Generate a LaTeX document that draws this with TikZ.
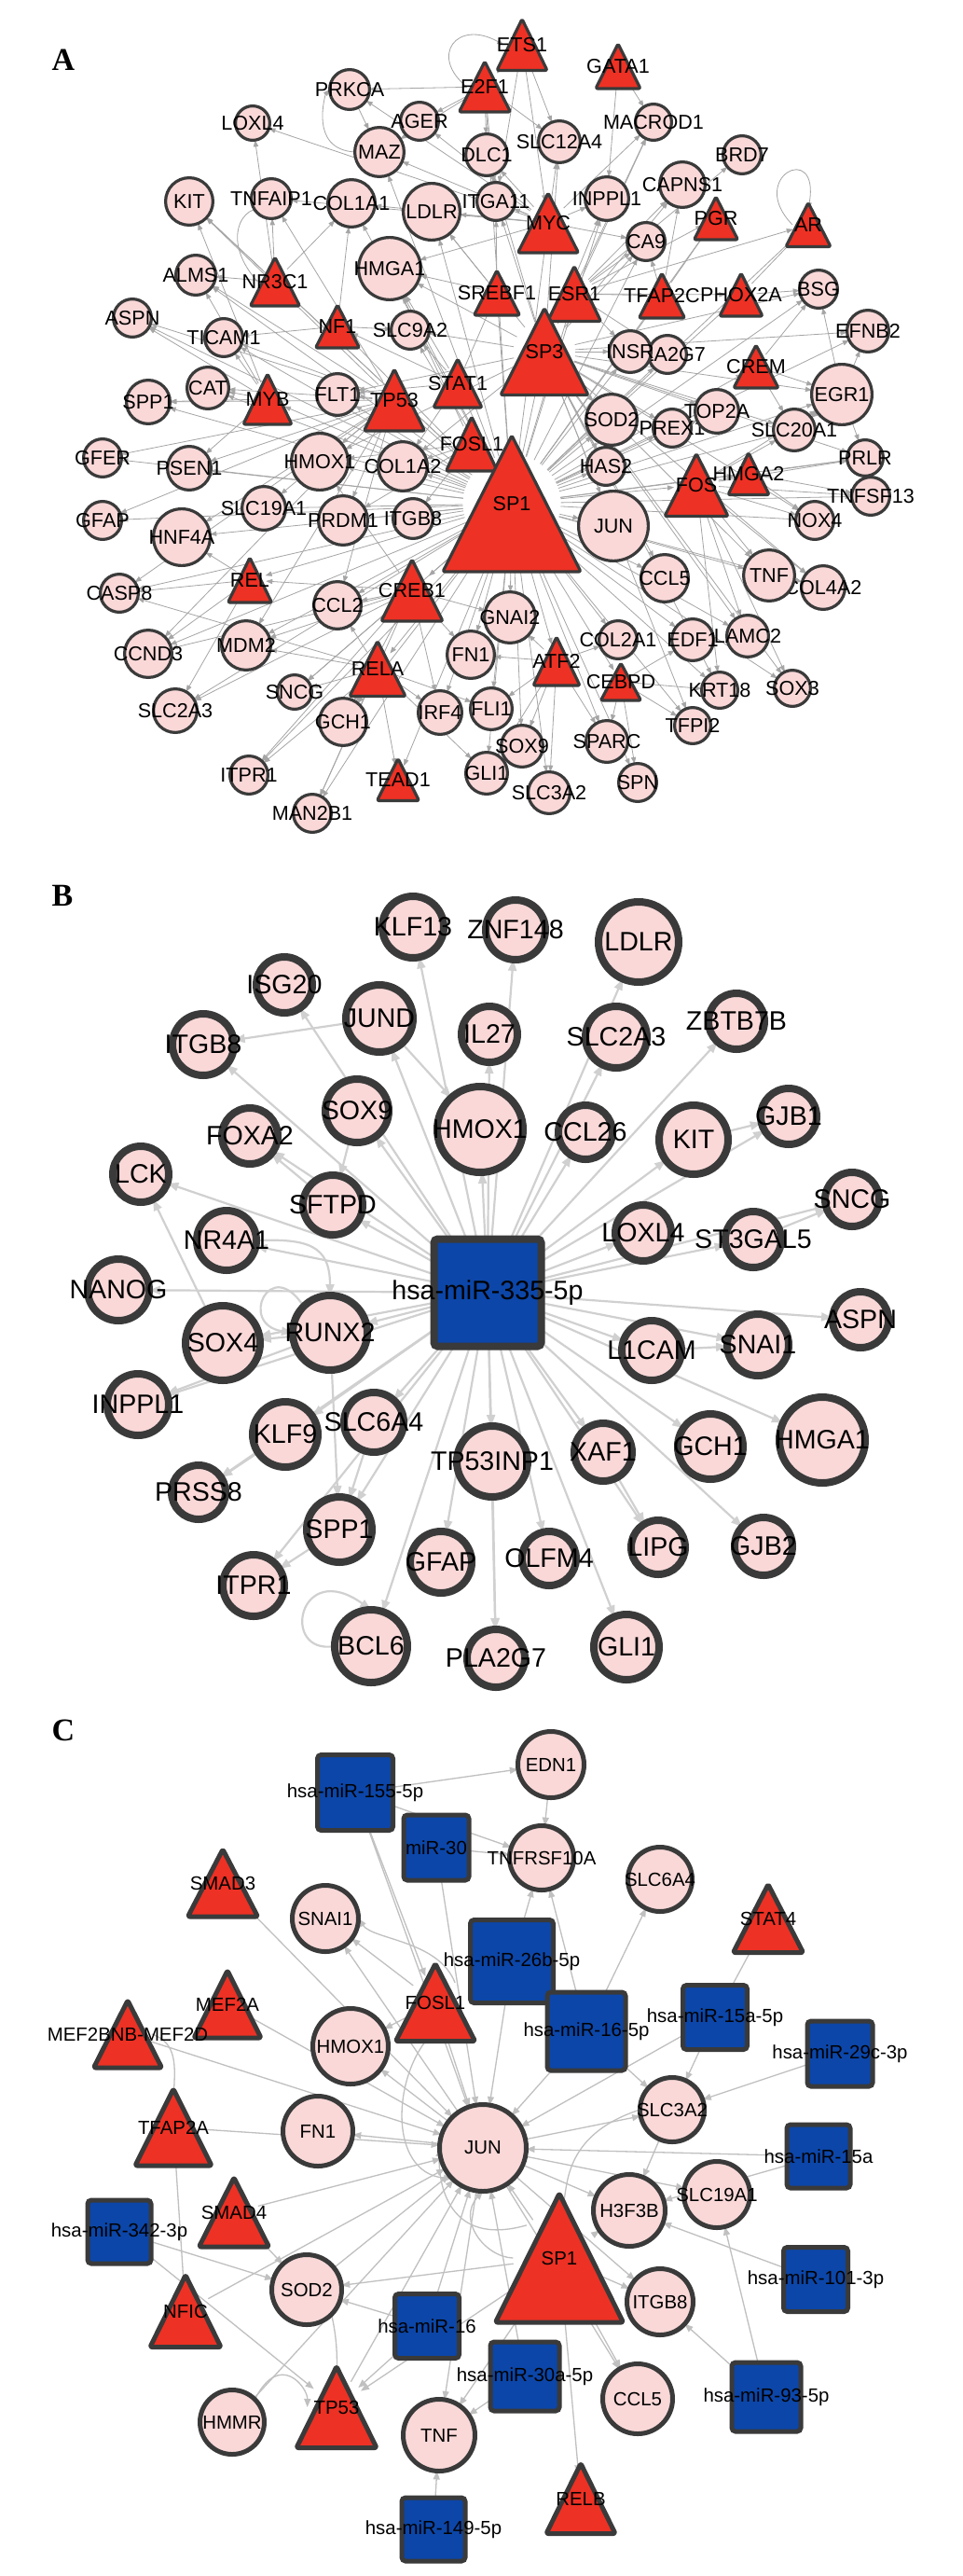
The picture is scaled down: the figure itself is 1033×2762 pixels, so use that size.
\documentclass[tikz,border=0pt]{standalone}
\usepackage{fontspec}
\setmainfont{Liberation Sans}
\newfontfamily\panelfont{Liberation Serif}
\usetikzlibrary{arrows.meta}
\pgfdeclarelayer{bg}
\pgfdeclarelayer{edges}
\pgfsetlayers{bg,edges,main}
\definecolor{pinkf}{RGB}{250,216,216}
\definecolor{redf}{RGB}{237,49,36}
\definecolor{bluef}{RGB}{12,70,168}
\definecolor{bordc}{RGB}{58,58,58}
\definecolor{edgeA}{RGB}{165,165,165}
\definecolor{edgeB}{RGB}{208,208,208}
\definecolor{edgeC}{RGB}{192,192,192}
\def\bw{1.6pt}
\newcommand{\CircN}[4]{\node[cnode, minimum size=#3pt-\bw] (#1) at (#2) {\makebox[0pt]{#4}};}
\newcommand{\TriN}[6]{%
  \filldraw[tri] ({#2-#4/2},{#3+#5/2}) -- (#2,{#3-#5/2}) -- ({#2+#4/2},{#3+#5/2}) -- cycle;
  \node[tcon, minimum size=0.36*#5pt] (#1) at (#2,#3) {\makebox[0pt]{#6}};}
\newcommand{\SqN}[4]{\node[sqn, minimum size=0.5*#3pt-\bw] (#1) at (#2) {\makebox[0pt]{#4}};}
\tikzset{
  cnode/.style={circle, fill=pinkf, draw=bordc, inner sep=0pt, outer sep=0pt},
  tri/.style={fill=redf, draw=bordc, line join=round, rounded corners=1pt},
  tcon/.style={circle, inner sep=0pt, outer sep=0pt},
  sqn/.style={rectangle, rounded corners=2pt, fill=bluef, draw=bordc, inner sep=0pt, outer sep=0pt},
  plab/.style={font=\panelfont\bfseries\fontsize{17}{20}\selectfont, inner sep=0pt},
}
\begin{document}
\begin{tikzpicture}[x=0.5pt,y=-0.5pt]
\begin{pgfonlayer}{bg}
\fill[white] (0,0) rectangle (1033,2762);
\end{pgfonlayer}
\useasboundingbox (0,0) rectangle (1033,2762);

\node[plab] (labA) at (68,64) {A};
\node[plab] (labB) at (67,960) {B};
\node[plab] (labC) at (68,1855) {C};

%%%%%%%%%%%%%%%%%%%% PANEL A
\begin{scope}[
  cnode/.append style={line width=1.6pt},
  tri/.append style={line width=1.6pt},
  every node/.append style={font=\fontsize{10.8}{12}\selectfont},
  lnk/.style={draw=edgeA, line width=0.4pt, -{Triangle[length=3.5pt,width=2.6pt]}}]
\def\bw{1.6pt}
\CircN{aPRKCA}{375,96}{23}{PRKCA}
\CircN{aLOXL4}{271,132}{20}{LOXL4}
\CircN{aAGER}{450,130}{22}{AGER}
\CircN{aMAZ}{407,163}{28}{MAZ}
\CircN{aDLC1}{522,166}{24}{DLC1}
\CircN{aKIT}{203,216}{27}{KIT}
\CircN{aTNFAIP1}{291,213}{23}{TNFAIP1}
\CircN{aCOL1A1}{377,218}{27}{COL1A1}
\CircN{aLDLR}{463,227}{32}{LDLR}
\CircN{aITGA11}{532,216}{22}{ITGA11}
\CircN{aALMS1}{210,295}{23}{ALMS1}
\CircN{aHMGA1}{418,288}{35}{HMGA1}
\CircN{aASPN}{142,341}{22}{ASPN}
\CircN{aTICAM1}{240,362}{22}{TICAM1}
\CircN{aSLC9A2}{440,354}{22}{SLC9A2}
\CircN{aCAT}{223,416}{24}{CAT}
\CircN{aSPP1}{159,431}{25}{SPP1}
\CircN{aFLT1}{362,423}{24}{FLT1}
\CircN{aGFER}{110,491}{22}{GFER}
\CircN{aPSEN1}{203,502}{25}{PSEN1}
\CircN{aHMOX1}{343,495}{32}{HMOX1}
\CircN{aCOL1A2}{432,500}{28}{COL1A2}
\CircN{aSLC19A1}{283,545}{25}{SLC19A1}
\CircN{aGFAP}{110,558}{22}{GFAP}
\CircN{aHNF4A}{195,576}{32}{HNF4A}
\CircN{aPRDM1}{368,558}{28}{PRDM1}
\CircN{aITGB8}{443,556}{23}{ITGB8}
\CircN{aCASP8}{128,636}{22}{CASP8}
\CircN{aCCL2}{362,649}{27}{CCL2}
\CircN{aCCND3}{159,701}{27}{CCND3}
\CircN{aMDM2}{264,692}{28}{MDM2}
\CircN{aFN1}{505,702}{27}{FN1}
\CircN{aSNCG}{316,742}{20}{SNCG}
\CircN{aSLC2A3}{188,762}{25}{SLC2A3}
\CircN{aGCH1}{368,774}{27}{GCH1}
\CircN{aIRF4}{472,764}{25}{IRF4}
\CircN{aFLI1}{527,760}{24}{FLI1}
\CircN{aITPR1}{267,831}{22}{ITPR1}
\CircN{aGLI1}{522,829}{24}{GLI1}
\CircN{aMAN2B1}{335,872}{22}{MAN2B1}
\CircN{aMACROD1}{701,131}{21}{MACROD1}
\CircN{aSLC12A4}{600,152}{24}{SLC12A4}
\CircN{aBRD7}{796,166}{22}{BRD7}
\CircN{aCAPNS1}{732,198}{26}{CAPNS1}
\CircN{aINPPL1}{651,213}{25}{INPPL1}
\CircN{aCA9}{693,259}{22}{CA9}
\CircN{aBSG}{878,310}{22}{BSG}
\CircN{aEFNB2}{931,355}{24}{EFNB2}
\CircN{aPLA2G7}{716,380}{22}{PLA2G7}
\CircN{aINSR}{676,377}{24}{INSR}
\CircN{aEGR1}{903,423}{34}{EGR1}
\CircN{aSOD2}{656,450}{29}{SOD2}
\CircN{aPREX1}{721,459}{22}{PREX1}
\CircN{aTOP2A}{769,441}{25}{TOP2A}
\CircN{aSLC20A1}{852,461}{24}{SLC20A1}
\CircN{aPRLR}{928,491}{21}{PRLR}
\CircN{aHAS2}{650,500}{22}{HAS2}
\CircN{aTNFSF13}{934,532}{22}{TNFSF13}
\CircN{aNOX4}{874,558}{22}{NOX4}
\CircN{aJUN}{658,564}{39}{JUN}
\CircN{aCCL5}{713,620}{27}{CCL5}
\CircN{aCOL4A2}{883,630}{25}{COL4A2}
\CircN{aTNF}{825,617}{29}{TNF}
\CircN{aGNAI2}{547,662}{29}{GNAI2}
\CircN{aCOL2A1}{663,686}{22}{COL2A1}
\CircN{aEDF1}{743,686}{24}{EDF1}
\CircN{aLAMC2}{802,682}{24}{LAMC2}
\CircN{aKRT18}{772,740}{21}{KRT18}
\CircN{aSOX3}{850,738}{21}{SOX3}
\CircN{aTFPI2}{743,778}{21}{TFPI2}
\CircN{aSOX9}{560,800}{24}{SOX9}
\CircN{aSPARC}{651,795}{24}{SPARC}
\CircN{aSLC3A2}{589,850}{24}{SLC3A2}
\CircN{aSPN}{684,839}{22}{SPN}
\TriN{aETS1}{560}{48}{54}{55}{ETS1}
\TriN{aE2F1}{520}{93}{55}{54}{E2F1}
\TriN{aGATA1}{663}{71}{48}{48}{GATA1}
\TriN{aMYC}{588}{239}{65}{64}{MYC}
\TriN{aPGR}{768}{234}{47}{46}{PGR}
\TriN{aAR}{867}{241}{48}{47}{AR}
\TriN{aNR3C1}{295}{302}{53}{52}{NR3C1}
\TriN{aNF1}{362}{350}{47}{46}{NF1}
\TriN{aSREBF1}{533}{314}{49}{48}{SREBF1}
\TriN{aESR1}{616}{315}{57}{59}{ESR1}
\TriN{aTFAP2C}{710}{317}{49}{48}{TFAP2C}
\TriN{aPHOX2A}{795}{316}{46}{46}{PHOX2A}
\TriN{aSP3}{584}{377}{94}{93}{SP3}
\TriN{aCREM}{811}{393}{48}{46}{CREM}
\TriN{aMYB}{287}{428}{52}{54}{MYB}
\TriN{aTP53}{423}{429}{65}{66}{TP53}
\TriN{aSTAT1}{491}{411}{52}{52}{STAT1}
\TriN{aFOSL1}{506}{476}{55}{58}{FOSL1}
\TriN{aFOS}{747}{520}{68}{67}{FOS}
\TriN{aHMGA2}{803}{508}{44}{45}{HMGA2}
\TriN{aSP1}{549}{540}{148}{146}{SP1}
\TriN{aREL}{268}{622}{47}{48}{REL}
\TriN{aCREB1}{442}{633}{66}{66}{CREB1}
\TriN{aRELA}{405}{717}{60}{59}{RELA}
\TriN{aATF2}{597}{709}{50}{52}{ATF2}
\TriN{aCEBPD}{666}{731}{43}{40}{CEBPD}
\TriN{aTEAD1}{427}{836}{45}{45}{TEAD1}
\begin{pgfonlayer}{edges}
\foreach \t in {aJUN,aCCL5,aTNF,aGNAI2,aCOL2A1,aEDF1,aLAMC2,aHAS2,aSOD2,aPREX1,aTOP2A,aSLC20A1,aEGR1,aNOX4,aCOL4A2,aHMOX1,aCOL1A2,aITGB8,aPRDM1,aSLC19A1,aPSEN1,aHNF4A,aGFAP,aGFER,aCCL2,aMDM2,aFN1,aSNCG,aGCH1,aIRF4,aFLI1,aSOX9,aSLC3A2,aSPARC,aKRT18,aTFPI2,aCAT,aSPP1,aFLT1,aHMGA1,aLDLR,aCOL1A1,aINSR,aPLA2G7,aCA9,aINPPL1,aMAZ,aKIT,aTICAM1,aSLC9A2,aALMS1,aCCND3,aSLC2A3,aITPR1,aMAN2B1,aTNFSF13,aPRLR,aBSG,aEFNB2,aSOX3,aSPN,aGLI1,aASPN,aCASP8,aSP3,aMYC,aESR1,aSTAT1,aTP53,aFOS,aCREB1,aRELA,aATF2,aCEBPD,aHMGA2,aCREM,aREL,aMYB,aNF1,aNR3C1,aE2F1,aTFAP2C,aPHOX2A,aPGR,aAR,aTEAD1,aSREBF1}
  \draw[lnk] (aSP1) -- (\t);
\foreach \t in {aJUN,aTNF,aSOD2,aEGR1,aSLC20A1,aTOP2A,aHAS2,aCCL5,aLDLR,aHMGA1,aINSR,aCA9,aMACROD1,aINPPL1,aCAPNS1,aBSG,aEFNB2,aPRLR,aNOX4,aKRT18,aCOL1A2,aHMOX1,aSLC9A2,aFLT1,aITGA11,aDLC1,aSLC12A4,aTFPI2,aLAMC2,aPREX1,aCOL4A2,aSOX3}
  \draw[lnk] (aSP3) -- (\t);
\foreach \t in {aCAT,aSPP1,aASPN,aTICAM1,aGFER,aPSEN1,aMDM2,aCCND3,aFLT1,aHMOX1,aALMS1,aKIT,aTNFAIP1,aGFAP,aHNF4A,aCASP8,aSLC19A1,aPRDM1,aCCL2}
  \draw[lnk] (aTP53) -- (\t);
\foreach \t in {aMAZ,aAGER,aDLC1,aITGA11,aSLC12A4,aINPPL1,aCA9,aLDLR,aCOL1A1,aTNFAIP1,aLOXL4,aMACROD1,aPRKCA,aHMGA1}
  \draw[lnk] (aMYC) -- (\t);
\foreach \t in {aPGR,aCAPNS1,aBRD7,aTFAP2C,aPHOX2A,aAR,aCA9,aINSR,aPLA2G7,aMACROD1}
  \draw[lnk] (aESR1) -- (\t);
\foreach \t in {aCCL2,aGCH1,aSNCG,aMDM2,aIRF4,aFN1,aGNAI2,aITPR1,aMAN2B1,aSLC2A3,aCCND3,aREL,aHMOX1}
  \draw[lnk] (aCREB1) -- (\t);
\foreach \t in {aTEAD1,aGCH1,aITPR1,aSNCG,aMAN2B1,aIRF4,aFLI1,aCCL2,aCASP8,aGLI1,aMDM2}
  \draw[lnk] (aRELA) -- (\t);
\foreach \t in {aTNF,aNOX4,aCOL4A2,aEGR1,aSLC20A1,aHMGA2,aPRLR,aTNFSF13,aLAMC2,aSOX3,aKRT18}
  \draw[lnk] (aFOS) -- (\t);
\foreach \t in {aSOX9,aSLC3A2,aSPARC,aGLI1,aFN1,aFLI1,aCOL2A1,aGNAI2}
  \draw[lnk] (aATF2) -- (\t);
\foreach \t in {aSPARC,aSPN,aTFPI2,aKRT18,aEDF1}
  \draw[lnk] (aCEBPD) -- (\t);
\foreach \t in {aHMGA1,aSLC9A2,aNF1,aFLT1,aSREBF1,aCOL1A2}
  \draw[lnk] (aSTAT1) -- (\t);
\foreach \t in {aCOL1A2,aHMOX1,aITGB8,aPRDM1,aHMGA1}
  \draw[lnk] (aFOSL1) -- (\t);
\foreach \t in {aCAT,aSPP1,aTICAM1,aASPN,aALMS1,aKIT,aPSEN1}
  \draw[lnk] (aMYB) -- (\t);
\foreach \t in {aTNFAIP1,aALMS1,aKIT,aLOXL4,aCOL1A1}
  \draw[lnk] (aNR3C1) -- (\t);
\foreach \t in {aTICAM1,aSLC9A2,aCOL1A1}
  \draw[lnk] (aNF1) -- (\t);
\foreach \t in {aCASP8,aCCND3,aSLC2A3,aHNF4A}
  \draw[lnk] (aREL) -- (\t);
\foreach \t in {aDLC1,aSLC12A4,aITGA11,aMAZ,aAGER,aPRKCA}
  \draw[lnk] (aE2F1) -- (\t);
\foreach \t in {aE2F1,aSLC12A4,aMYC,aITGA11}
  \draw[lnk] (aETS1) -- (\t);
\foreach \t in {aMACROD1,aINPPL1}
  \draw[lnk] (aGATA1) -- (\t);
\foreach \t in {aSLC20A1,aPRLR,aEFNB2,aBSG}
  \draw[lnk] (aEGR1) -- (\t);
\foreach \t in {aEGR1,aBSG,aSLC20A1}
  \draw[lnk] (aCREM) -- (\t);
\foreach \t in {aNOX4,aTNFSF13,aPRLR}
  \draw[lnk] (aHMGA2) -- (\t);
\foreach \t in {aBSG,aAR}
  \draw[lnk] (aPHOX2A) -- (\t);
\foreach \t in {aCA9,aCAPNS1,aPGR}
  \draw[lnk] (aTFAP2C) -- (\t);
\foreach \t in {aLDLR,aHMGA1,aITGA11}
  \draw[lnk] (aSREBF1) -- (\t);
\draw[lnk] (aPRKCA) -- (aMAZ);
\draw[lnk] (aMAZ.west) .. controls (330,160) and (350,100) .. (aPRKCA.west);
\draw[lnk] (aAR.west) .. controls (800,190) and (880,150) .. (aAR.north);
\draw[lnk] (aE2F1.west) .. controls (460,60) and (490,20) .. (aETS1.west);
\draw[lnk] (aNR3C1.west) .. controls (230,250) and (270,210) .. (aTNFAIP1.south);
\end{pgfonlayer}
\end{scope}

%%%%%%%%%%%%%%%%%%%% PANEL B
\begin{scope}[
  cnode/.append style={line width=4pt},
  sqn/.append style={line width=4pt},
  every node/.append style={font=\fontsize{14.3}{16}\selectfont},
  lnk/.style={draw=edgeB, line width=1.1pt, -{Triangle[length=6pt,width=4.5pt]}}]
\def\bw{4pt}
\CircN{bKLF13}{443,994}{37}{KLF13}
\CircN{bZNF148}{553,997}{36}{ZNF148}
\CircN{bLDLR}{685,1010}{47}{LDLR}
\CircN{bISG20}{305,1056}{34}{ISG20}
\CircN{bJUND}{407,1092}{40}{JUND}
\CircN{bIL27}{525,1109}{34}{IL27}
\CircN{bSLC2A3}{661,1112}{37}{SLC2A3}
\CircN{bZBTB7B}{790,1095}{34}{ZBTB7B}
\CircN{bITGB8}{218,1120}{37}{ITGB8}
\CircN{bSOX9}{383,1191}{38}{SOX9}
\CircN{bFOXA2}{268,1218}{34}{FOXA2}
\CircN{bHMOX1}{515,1211}{50}{HMOX1}
\CircN{bCCL26}{628,1214}{33}{CCL26}
\CircN{bKIT}{744,1222}{41}{KIT}
\CircN{bGJB1}{846,1197}{34}{GJB1}
\CircN{bLCK}{151,1259}{34}{LCK}
\CircN{bSFTPD}{357,1292}{36}{SFTPD}
\CircN{bSNCG}{914,1286}{33}{SNCG}
\CircN{bLOXL4}{690,1322}{34}{LOXL4}
\CircN{bST3GAL5}{808,1329}{34}{ST3GAL5}
\CircN{bNR4A1}{243,1330}{36}{NR4A1}
\CircN{bNANOG}{127,1383}{37}{NANOG}
\CircN{bSOX4}{239,1440}{44}{SOX4}
\CircN{bRUNX2}{354,1429}{44}{RUNX2}
\CircN{bASPN}{923,1415}{34}{ASPN}
\CircN{bL1CAM}{699,1448}{36}{L1CAM}
\CircN{bSNAI1}{813,1442}{37}{SNAI1}
\CircN{bINPPL1}{148,1506}{37}{INPPL1}
\CircN{bKLF9}{306,1538}{39}{KLF9}
\CircN{bSLC6A4}{401,1525}{36}{SLC6A4}
\CircN{bTP53INP1}{528,1567}{42}{TP53INP1}
\CircN{bXAF1}{647,1557}{35}{XAF1}
\CircN{bGCH1}{762,1551}{39}{GCH1}
\CircN{bHMGA1}{882,1544}{50}{HMGA1}
\CircN{bPRSS8}{213,1600}{33}{PRSS8}
\CircN{bSPP1}{364,1640}{39}{SPP1}
\CircN{bGFAP}{473,1675}{37}{GFAP}
\CircN{bOLFM4}{589,1671}{33}{OLFM4}
\CircN{bLIPG}{706,1659}{33}{LIPG}
\CircN{bGJB2}{819,1658}{35}{GJB2}
\CircN{bITPR1}{272,1700}{37}{ITPR1}
\CircN{bBCL6}{398,1765}{43}{BCL6}
\CircN{bPLA2G7}{532,1778}{35}{PLA2G7}
\CircN{bGLI1}{672,1766}{39}{GLI1}
\SqN{bmiR}{523,1386}{123}{hsa-miR-335-5p}
\begin{pgfonlayer}{edges}
\foreach \t in {bKLF13,bZNF148,bLDLR,bISG20,bJUND,bIL27,bSLC2A3,bZBTB7B,bITGB8,bSOX9,bFOXA2,bHMOX1,bCCL26,bKIT,bGJB1,bLCK,bSFTPD,bSNCG,bLOXL4,bST3GAL5,bNR4A1,bNANOG,bSOX4,bRUNX2,bASPN,bL1CAM,bSNAI1,bINPPL1,bKLF9,bSLC6A4,bTP53INP1,bXAF1,bGCH1,bHMGA1,bPRSS8,bSPP1,bGFAP,bOLFM4,bLIPG,bGJB2,bITPR1,bBCL6,bPLA2G7,bGLI1}
  \draw[lnk] (bmiR) -- (\t);
\foreach \s/\t in {bJUND/bITGB8,bJUND/bHMOX1,bSOX9/bSFTPD,bSFTPD/bFOXA2,bSOX4/bLCK,bRUNX2/bINPPL1,bRUNX2/bSOX4,bRUNX2/bSPP1,bSLC6A4/bSPP1,bSPP1/bITPR1,bKLF9/bPRSS8,bKIT/bGJB1,bST3GAL5/bSNCG,bL1CAM/bSNAI1,bXAF1/bLIPG,bTP53INP1/bPLA2G7}
  \draw[lnk] (\s) -- (\t);
\draw[lnk] (bNR4A1.east) .. controls (330,1328) and (354,1335) .. (bRUNX2.north);
\draw[lnk] (bRUNX2.north west) .. controls (290,1345) and (255,1420) .. (bRUNX2.west);
\draw[lnk] (bBCL6.west) .. controls (300,1775) and (320,1670) .. (bBCL6.north);
\end{pgfonlayer}
\end{scope}

%%%%%%%%%%%%%%%%%%%% PANEL C
\begin{scope}[
  cnode/.append style={line width=2.5pt},
  sqn/.append style={line width=2.5pt},
  tri/.append style={line width=2.5pt},
  every node/.append style={font=\fontsize{10.2}{12}\selectfont},
  lnk/.style={draw=edgeC, line width=0.65pt, -{Triangle[length=4.5pt,width=3.5pt]}}]
\def\bw{2.5pt}
\CircN{cEDN1}{591,1892}{38}{EDN1}
\CircN{cTNFRSF10A}{581,1992}{37}{TNFRSF10A}
\CircN{cSLC6A4}{708,2015}{37}{SLC6A4}
\CircN{cSNAI1}{349,2057}{38}{SNAI1}
\CircN{cHMOX1}{376,2194}{43}{HMOX1}
\CircN{cFN1}{341,2285}{40}{FN1}
\CircN{cJUN}{518,2303}{49}{JUN}
\CircN{cSLC3A2}{721,2262}{37}{SLC3A2}
\CircN{cH3F3B}{675,2370}{41}{H3F3B}
\CircN{cSLC19A1}{769,2353}{38}{SLC19A1}
\CircN{cSOD2}{329,2455}{40}{SOD2}
\CircN{cITGB8}{708,2468}{38}{ITGB8}
\CircN{cCCL5}{684,2572}{40}{CCL5}
\CircN{cHMMR}{249,2597}{37}{HMMR}
\CircN{cTNF}{471,2611}{41}{TNF}
\TriN{cSMAD3}{239}{2019}{75}{72}{SMAD3}
\TriN{cMEF2A}{244}{2149}{72}{72}{MEF2A}
\TriN{cMEF2BNB}{137}{2181}{73}{72}{MEF2BNB-MEF2D}
\TriN{cFOSL1}{467}{2147}{85}{83}{FOSL1}
\TriN{cSTAT4}{824}{2057}{75}{73}{STAT4}
\TriN{cTFAP2A}{186}{2281}{82}{82}{TFAP2A}
\TriN{cSMAD4}{251}{2372}{75}{74}{SMAD4}
\TriN{cNFIC}{199}{2478}{76}{77}{NFIC}
\TriN{cSP1}{600}{2421}{137}{138}{SP1}
\TriN{cTP53}{361}{2581}{86}{87}{TP53}
\TriN{cRELB}{623}{2679}{74}{75}{RELB}
\SqN{cm155}{381,1922}{86}{hsa-miR-155-5p}
\SqN{cm30}{468,1981}{75}{miR-30}
\SqN{cm26b}{549,2103}{94}{hsa-miR-26b-5p}
\SqN{cm16a}{629,2178}{89}{hsa-miR-16-5p}
\SqN{cm15a5p}{767,2163}{74}{hsa-miR-15a-5p}
\SqN{cm29c}{901,2202}{75}{hsa-miR-29c-3p}
\SqN{cm15a}{878,2312}{73}{hsa-miR-15a}
\SqN{cm342}{128,2393}{73}{hsa-miR-342-3p}
\SqN{cm101}{875,2444}{74}{hsa-miR-101-3p}
\SqN{cm16}{458,2494}{74}{hsa-miR-16}
\SqN{cm30a}{563,2548}{79}{hsa-miR-30a-5p}
\SqN{cm93}{822,2570}{79}{hsa-miR-93-5p}
\SqN{cm149}{465,2712}{73}{hsa-miR-149-5p}
\begin{pgfonlayer}{edges}
\foreach \s/\t in {cm155/cEDN1,cm155/cTNFRSF10A,cm155/cFOSL1,cm155/cJUN,cm30/cTNFRSF10A,cm30/cJUN,cSMAD3/cJUN,cFOSL1/cSNAI1,cFOSL1/cJUN,cFOSL1/cHMOX1,cJUN/cSNAI1,cJUN/cFN1,cJUN/cHMOX1,cJUN/cCCL5,cJUN/cITGB8,cJUN/cH3F3B,cJUN/cSLC19A1,cJUN/cSLC3A2,cJUN/cTNF,cMEF2A/cJUN,cMEF2BNB/cJUN,cTFAP2A/cJUN,cm26b/cTNFRSF10A,cm26b/cJUN,cm16a/cTNFRSF10A,cm16a/cSLC6A4,cm16a/cSLC3A2,cm16a/cJUN,cm15a5p/cSTAT4,cm15a5p/cJUN,cm15a5p/cSLC3A2,cm29c/cSLC3A2,cm15a/cJUN,cm15a/cH3F3B,cm101/cH3F3B,cm93/cITGB8,cm93/cSLC19A1,cm342/cSOD2,cm342/cTP53,cSMAD4/cJUN,cSMAD4/cSOD2,cNFIC/cTFAP2A,cNFIC/cJUN,cSOD2/cJUN,cSP1/cJUN,cSP1/cSOD2,cSP1/cTNF,cSP1/cCCL5,cSP1/cITGB8,cSP1/cH3F3B,cSP1/cRELB,cSP1/cTP53,cm16/cSOD2,cm16/cTP53,cm16/cJUN,cm30a/cTNF,cm30a/cJUN,cm149/cTNF,cTP53/cJUN,cHMMR/cJUN,cEDN1/cTNFRSF10A,cSLC3A2/cH3F3B}
  \draw[lnk] (\s) -- (\t);
\draw[lnk] (cMEF2BNB.east) .. controls (190,2190) and (188,2215) .. (cTFAP2A.north);
\draw[lnk] (cSOD2.south east) .. controls (360,2500) and (362,2520) .. (cTP53.north);
\draw[lnk] (cSP1.west) .. controls (520,2420) and (490,2380) .. (cJUN.south);
\draw[lnk] (cFOSL1.north east) .. controls (470,2080) and (400,2080) .. (cSNAI1.east);
\draw[lnk] (cFOSL1.south) .. controls (420,2220) and (415,2330) .. (cJUN.south west);
\draw[lnk] (cSP1.north west) .. controls (480,2410) and (470,2340) .. (cJUN.west);
\draw[lnk] (cSLC3A2.west) .. controls (600,2290) and (610,2350) .. (cSP1.north);
\draw[lnk] (cHMMR.north east) .. controls (300,2520) and (330,2560) .. (cTP53.west);
\end{pgfonlayer}
\end{scope}
\end{tikzpicture}
\end{document}
